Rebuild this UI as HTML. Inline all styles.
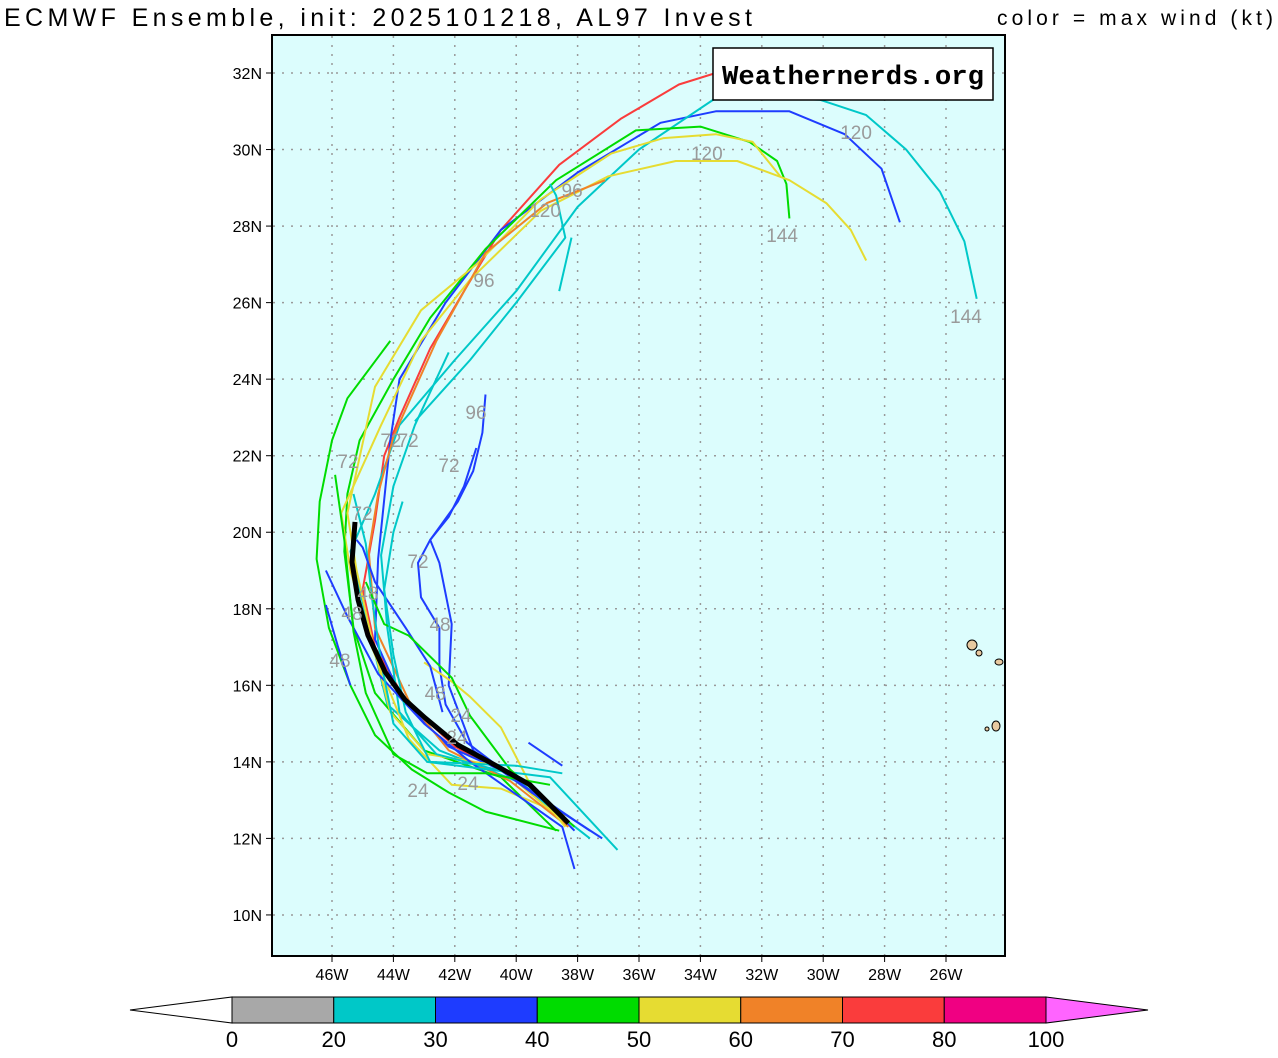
<!DOCTYPE html>
<html><head><meta charset="utf-8"><style>
body{margin:0;background:#fff;width:1278px;height:1053px;overflow:hidden;font-family:"Liberation Sans",sans-serif}
svg text{font-family:"Liberation Sans","DejaVu Sans",sans-serif}
svg text.mono{font-family:"Liberation Mono",monospace}
</style></head><body>
<svg id="chart" width="1278" height="1053" xmlns="http://www.w3.org/2000/svg">
<text x="4" y="26" font-size="25" fill="#000" textLength="748" lengthAdjust="spacing">ECMWF Ensemble, init: 2025101218, AL97 Invest</text>
<text x="997" y="25" font-size="21" fill="#000" textLength="276" lengthAdjust="spacing">color = max wind (kt)</text>
<rect x="272" y="35" width="733" height="921" fill="#dcfdfd" stroke="#000" stroke-width="2"/>
<g id="grid"></g>
<g id="islands"></g>
<g id="tracks"></g>
<g id="labels"></g>
<g id="axes"></g>
<g>
<rect x="713" y="48" width="280" height="52" fill="#fff" stroke="#000" stroke-width="1.5"/>
<text class="mono" x="722" y="84" font-size="27" font-weight="bold" textLength="262" lengthAdjust="spacingAndGlyphs" fill="#000">Weathernerds.org</text>
</g>
<g id="cbar"></g>
</svg>
<script>
const xTicks=[46,44,42,40,38,36,34,32,30,28,26];
const yTicks=[32,30,28,26,24,22,20,18,16,14,12,10];
const cbarLevels=[0,20,30,40,50,60,70,80,100];
const cbarColors=["#a8a8a8","#00c8c8","#1e3cff","#00dc00","#e6dc32","#f08228","#fa3c3c","#f00082"];
const trackColors=["#fa3c3c","#1e3cff","#00c8c8","#00dc00","#e6dc32","#e6dc32","#f08228","#00c8c8","#00c8c8","#00c8c8","#1e3cff","#1e3cff","#00dc00","#1e3cff","#1e3cff","#e6dc32","#00c8c8","#1e3cff","#00dc00","#00dc00","#00c8c8"];
const tracks=[
[[38.4,12.4],[39.6,13.4],[42.0,14.4],[43.6,15.6],[44.6,17.0],[45.0,18.5],[44.6,20.3],[44.3,22.0],[43.8,23.0],[42.8,24.8],[41.7,26.3],[40.5,27.9],[38.6,29.6],[36.6,30.8],[34.7,31.7],[33.5,32.0]],
[[38.1,12.2],[39.7,13.5],[42.2,14.4],[43.7,15.6],[44.6,17.2],[44.5,19.3],[44.1,22.4],[43.8,24.0],[42.3,26.0],[40.5,27.9],[38.0,29.4],[35.3,30.7],[33.5,31.0],[31.1,31.0],[29.3,30.4],[28.1,29.5],[27.5,28.1]],
[[37.6,12.0],[40.0,13.5],[42.5,14.3],[44.2,15.5],[44.8,17.5],[45.4,19.5],[44.6,21.0],[43.8,22.8],[42.0,24.5],[40.0,26.3],[38.0,28.5],[36.0,30.0],[33.4,31.4],[30.1,31.3],[28.6,30.9],[27.3,30.0],[26.2,28.9],[25.4,27.6],[25.0,26.1]],
[[38.7,12.2],[40.5,13.6],[43.0,14.3],[44.6,15.8],[45.3,17.5],[45.6,19.5],[45.5,21.0],[45.1,22.4],[44.0,24.0],[42.8,25.6],[41.0,27.4],[38.7,29.2],[36.1,30.5],[34.0,30.6],[32.4,30.2],[31.5,29.7],[31.2,29.1],[31.1,28.2]],
[[38.4,12.4],[40.6,13.9],[42.9,14.2],[44.1,15.3],[44.7,17.2],[45.2,19.0],[45.5,20.5],[44.6,23.8],[43.1,25.8],[41.3,27.0],[39.2,28.7],[36.9,29.9],[35.2,30.3],[33.5,30.4],[32.3,30.2],[31.4,29.3]],
[[38.4,12.6],[40.5,13.3],[42.1,13.4],[43.5,14.6],[44.7,17.0],[45.4,19.0],[45.7,20.5],[44.4,22.8],[43.1,25.0],[41.5,26.6],[39.2,28.4],[37.0,29.3],[34.8,29.7],[32.8,29.7],[31.1,29.2],[29.9,28.6],[29.1,27.9],[28.6,27.1]],
[[38.3,12.3],[40.2,13.5],[42.2,14.3],[43.5,15.6],[44.6,17.5],[44.8,19.5],[44.5,21.0],[44.0,22.5],[42.6,25.0],[41.0,27.3],[39.0,28.6],[37.1,29.2]],
[[38.3,12.4],[40.2,13.7],[42.6,14.2],[43.8,15.3],[44.2,17.5],[44.4,19.4],[44.0,21.2],[43.3,22.8],[42.2,24.7]],
[[43.3,22.9],[41.5,24.5],[40.0,26.0],[38.4,27.7],[38.7,28.8],[38.9,29.1]],
[[38.6,26.3],[38.2,27.7]],
[[37.2,12.0],[39.5,13.2],[41.4,14.3],[42.2,16.0],[42.1,17.6],[42.5,19.2],[42.8,19.8],[41.9,20.8],[41.4,21.6],[41.1,22.6],[41.0,23.6]],
[[37.6,12.2],[39.8,13.4],[41.6,14.5],[42.3,15.5],[42.5,16.5],[42.5,17.5],[43.1,18.3],[43.2,19.2],[42.8,19.8],[42.2,20.4],[41.7,21.2],[41.3,22.2]],
[[38.6,12.2],[41.0,12.7],[42.2,13.2],[43.4,13.8],[44.6,14.7],[45.4,16.0],[46.1,17.5],[46.5,19.3],[46.4,20.8],[46.0,22.4],[45.5,23.5],[44.1,25.0]],
[[38.1,11.2],[38.5,12.3],[41.5,14.0],[43.0,15.0],[44.5,16.3],[45.5,17.8],[46.2,19.0]],
[[45.4,16.0],[45.8,17.0],[46.2,18.1]],
[[38.4,12.3],[39.6,13.5],[40.5,14.9],[41.5,15.7],[42.1,16.1],[43.0,16.6]],
[[36.7,11.7],[38.9,13.6],[42.9,14.0],[44.0,15.0],[44.4,16.6],[44.7,18.3],[44.9,19.7],[45.3,21.0]],
[[42.4,15.3],[42.8,16.5],[43.6,17.5],[44.6,18.7],[45.0,19.6],[45.2,19.8]],
[[38.9,13.4],[41.0,13.7],[42.9,13.7],[44.0,14.2],[44.9,15.8],[45.3,17.4],[45.6,19.8],[45.9,21.5]],
[[38.1,12.3],[40.2,13.8],[41.5,15.2],[42.1,16.2],[43.5,17.3],[44.3,17.6],[44.9,18.7]],
[[38.5,13.7],[40.0,13.9],[42.8,14.0],[43.6,15.3],[44.0,16.8],[44.3,18.5],[44.0,20.0],[43.7,20.8]]
];
const shortBlue=[[39.6,14.5],[38.5,13.9]];
const meanTrack=[[38.3,12.4],[39.55,13.4],[40.7,13.92],[41.9,14.44],[42.97,15.15],[43.62,15.62],[44.27,16.35],[44.83,17.31],[45.15,18.23],[45.35,19.22],[45.25,20.27]];
const labelText=["144","144","120","120","120","96","96","96","72","72","72","72","72","72","48","48","48","48","48","24","24","24","24"];
const labelPos=[[31.34,27.77],[25.35,25.65],[28.93,30.46],[33.79,29.91],[39.06,28.42],[38.18,28.94],[41.05,26.59],[41.31,23.14],[44.08,22.41],[43.52,22.41],[45.48,21.86],[42.19,21.76],[45.02,20.5],[43.2,19.25],[44.83,18.41],[42.48,17.6],[45.35,17.89],[45.74,16.66],[42.64,15.8],[41.8,15.22],[41.93,14.65],[43.2,13.26],[41.57,13.45]];
const NS="http://www.w3.org/2000/svg";
function X(lon){return 332+(46-lon)*30.7;}
function Y(lat){return 73+(32-lat)*38.27;}
function mk(tag,attrs,parent){const e=document.createElementNS(NS,tag);for(const k in attrs)e.setAttribute(k,attrs[k]);parent.appendChild(e);return e;}
const grid=document.getElementById('grid'),axes=document.getElementById('axes');
xTicks.forEach(v=>{
 const l=mk('line',{x1:X(v),x2:X(v),y1:36,y2:955,stroke:'#999','stroke-dasharray':'2,7','stroke-width':1.5},grid);
 
 
 const t=mk('text',{x:X(v),y:980,'font-size':16,'text-anchor':'middle'},axes);t.textContent=v+'W';
 
 
 mk('line',{x1:X(v),x2:X(v),y1:956,y2:962,stroke:'#000'},axes);
});
yTicks.forEach(v=>{
 const l=mk('line',{x1:273,x2:1004,y1:Y(v),y2:Y(v),stroke:'#999','stroke-dasharray':'2,7','stroke-width':1.5},grid);
 
 
 const t=mk('text',{x:262,y:Y(v)+6,'font-size':16,'text-anchor':'end'},axes);t.textContent=v+'N';
 
 
 mk('line',{x1:266,x2:272,y1:Y(v),y2:Y(v),stroke:'#000'},axes);
});
const isl=document.getElementById('islands');
[[972,645,5,5],[979,653,3,3],[999,662,4,3],[996,726,4,5],[987,729,2,2]].forEach(a=>{
 const e=mk('ellipse',{cx:a[0],cy:a[1],rx:a[2],ry:a[3],fill:'#e8c9a0',stroke:'#000','stroke-width':1},isl);
 
 
});
const tg=document.getElementById('tracks');
function pts(tr){return tr.map(p=>X(p[0]).toFixed(1)+','+Y(p[1]).toFixed(1)).join(' ');}
tracks.forEach((tr,i)=>{
 const e=mk('polyline',{points:pts(tr),fill:'none',stroke:trackColors[i],'stroke-width':2,'stroke-linejoin':'round'},tg);
 
 
});
const sb=mk('polyline',{points:pts(shortBlue),fill:'none',stroke:'#1e3cff','stroke-width':2},tg);


const mt=mk('polyline',{points:pts(meanTrack),fill:'none',stroke:'#000','stroke-width':5,'stroke-linejoin':'round'},tg);


const lg=document.getElementById('labels');
labelPos.forEach((p,i)=>{
 const t=mk('text',{x:X(p[0]),y:Y(p[1])+7,'font-size':19,'text-anchor':'middle',fill:'#9a9a9a'},lg);
 t.textContent=labelText[i];
 
 
});
const cb=document.getElementById('cbar');
const cx0=232,cw=101.75,cy=997,ch=26;
const lt=mk('polygon',{points:`130,1010 ${cx0},${cy} ${cx0},${cy+ch}`,fill:'#fff',stroke:'#000'},cb);


cbarColors.forEach((c,i)=>{
 const r=mk('rect',{x:cx0+i*cw,y:cy,width:cw,height:ch,fill:c,stroke:'#000'},cb);
 
 
});
const rx=cx0+cbarColors.length*cw;
const rt=mk('polygon',{points:`${rx},${cy} 1148,1010 ${rx},${cy+ch}`,fill:'#ff64ff',stroke:'#000'},cb);


cbarLevels.forEach((v,i)=>{
 const t=mk('text',{x:cx0+i*cw,y:1047,'font-size':22,'text-anchor':'middle'},cb);
 t.textContent=v;
 
 
});
</script>
</body></html>
